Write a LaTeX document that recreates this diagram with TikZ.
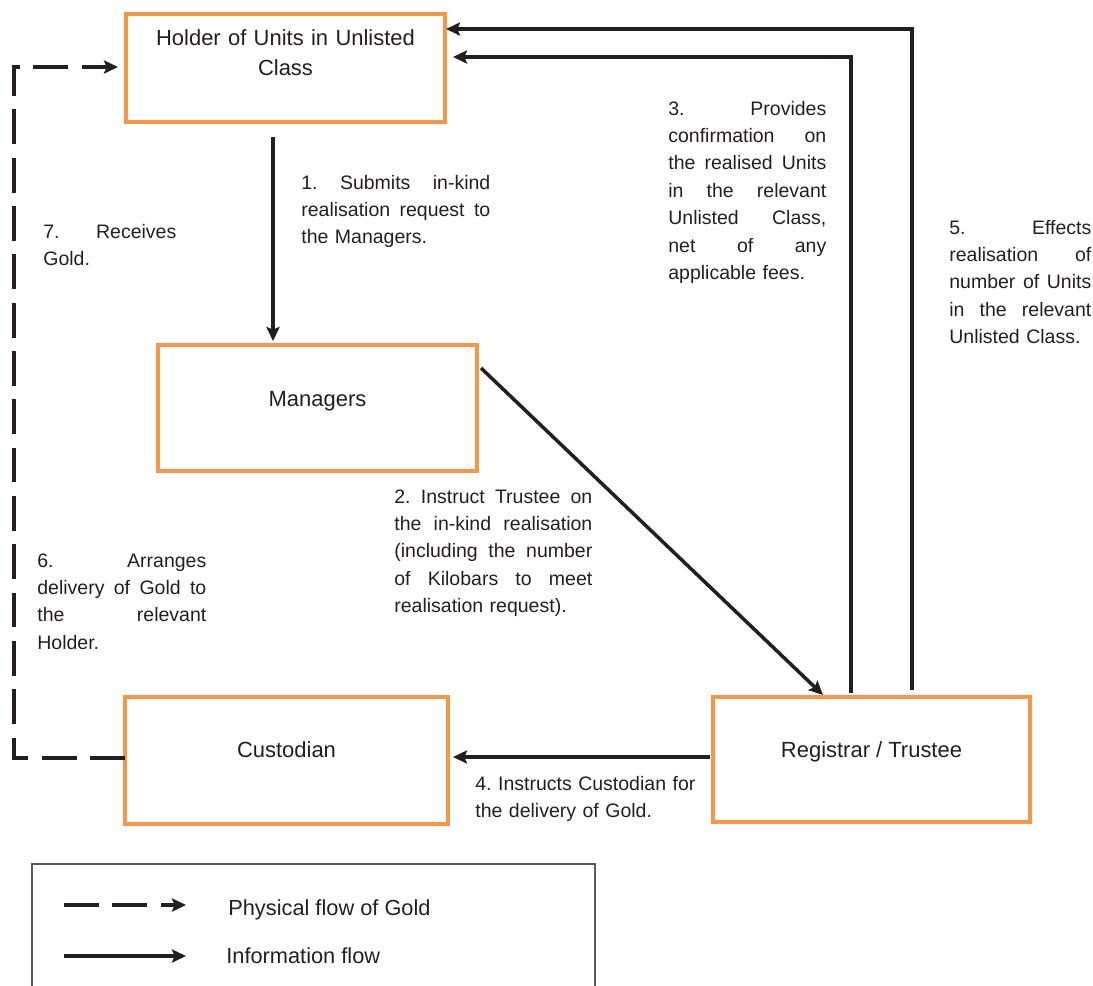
\documentclass[tikz,border=0pt]{standalone}
\usepackage{fontspec}
\setmainfont{Liberation Sans}
\usetikzlibrary{arrows.meta,calc}
\newdimen\pxu \pxu=0.02cm
\definecolor{boxorange}{HTML}{F79646}
\definecolor{ink}{HTML}{231F20}
\newcommand\jl[2]{\leavevmode\hbox to #1\pxu{\spaceskip=0.278em plus 1fil\relax #2}}
\frenchspacing
\begin{document}
\begin{tikzpicture}[x=0.02cm, y=-0.02cm,
  box/.style={draw=boxorange, line width=1.8pt, inner sep=0pt, fill=white},
  boxtxt/.style={text=ink, inner sep=0pt, font=\fontsize{12.5}{17.5}\selectfont},
  lbl/.style={text=ink, inner sep=0pt, align=left, anchor=base west, font=\fontsize{11.1}{15.6}\selectfont\frenchspacing},
  lgd/.style={text=ink, inner sep=0pt, anchor=base west, font=\fontsize{12.4}{15.6}\selectfont},
  tip/.style={-{Stealth[length=8pt,width=7.5pt,inset=1.5pt]}},
  info/.style={draw=ink, line width=2pt, tip},
  phys/.style={draw=ink, line width=2.3pt, dash pattern=on 19.8pt off 7.7pt, tip},
  legendframe/.style={draw=black!65, line width=0.7pt}]
\useasboundingbox (0,0) rectangle (1093,985);

% boxes
\node[box, minimum width=319\pxu, minimum height=108\pxu] (holder) at (285.5,68) {};
\node[box, minimum width=319\pxu, minimum height=126\pxu] (managers) at (317.5,408) {};
\node[box, minimum width=323\pxu, minimum height=127\pxu] (custodian) at (286.5,760.5) {};
\node[box, minimum width=317\pxu, minimum height=125\pxu] (registrar) at (871.5,759.5) {};

% box texts
\node[boxtxt, anchor=base, text width=310\pxu, align=center] (holdert) at (285.5,45) {Holder of Units in Unlisted\\Class};
\node[boxtxt, anchor=base] (managerst) at (317.5,406) {Managers};
\node[boxtxt, anchor=base] (custodiant) at (286.5,757) {Custodian};
\node[boxtxt, anchor=base] (registrart) at (871.5,757) {Registrar / Trustee};

% connector end points
\coordinate (a1s) at (273,137);  \coordinate (a1e) at (273,341);
\coordinate (a2s) at (481,368);  \coordinate (a2e) at (823,695);
\coordinate (a3s) at (851,693);  \coordinate (a3c) at (851,57);  \coordinate (a3e) at (453,57);
\coordinate (a5s) at (912,690);  \coordinate (a5c) at (912,29);  \coordinate (a5e) at (446,29);
\coordinate (a4s) at (710,757);  \coordinate (a4e) at (453,757);
\coordinate (d1s) at (125,758);  \coordinate (d1a) at (14,758);  \coordinate (d1b) at (14,67);  \coordinate (d1e) at (118,67);

\draw[info] (a1s) -- (a1e);
\draw[info] (a2s) -- (a2e);
\draw[info] (a3s) -- (a3c) -- (a3e);
\draw[info] (a5s) -- (a5c) -- (a5e);
\draw[info] (a4s) -- (a4e);
\draw[phys] (d1s) -- (d1a) -- (d1b) -- (d1e);

% labels
\node[lbl, text width=189\pxu] (t1) at (301,189) {\jl{189}{1. Submits in-kind}\\\jl{189}{realisation request to}\\the Managers.};
\node[lbl, text width=133\pxu] (t7) at (43,238) {\jl{133}{7. Receives}\\Gold.};
\node[lbl, text width=158\pxu] (t3) at (668,115) {\jl{158}{3. Provides}\\\jl{158}{confirmation on}\\\jl{158}{the realised Units}\\\jl{158}{in the relevant}\\\jl{158}{Unlisted Class,}\\\jl{158}{net of any}\\applicable fees.};
\node[lbl, text width=142\pxu] (t5) at (949,234) {\jl{142}{5. Effects}\\\jl{142}{realisation of}\\\jl{142}{number of Units}\\\jl{142}{in the relevant}\\Unlisted Class.};
\node[lbl, text width=169\pxu] (t6) at (37,567) {\jl{169}{6. Arranges}\\\jl{169}{delivery of Gold to}\\\jl{169}{the relevant}\\Holder.};
\node[lbl, text width=198\pxu] (t2) at (394,503) {\jl{198}{2. Instruct Trustee on}\\\jl{198}{the in-kind realisation}\\\jl{198}{(including the number}\\\jl{198}{of Kilobars to meet}\\realisation request).};
\node[lbl, text width=230\pxu] (t4) at (475,790) {4. Instructs Custodian for\\the delivery of Gold.};

% legend
\draw[legendframe] (32,990) -- (32,864) -- (595,864) -- (595,990);
\coordinate (l1s) at (64,905); \coordinate (l1e) at (186,905);
\coordinate (l2s) at (64,956); \coordinate (l2e) at (186,956);
\draw[phys] (l1s) -- (l1e);
\draw[info] (l2s) -- (l2e);
\node[lgd] (lt1) at (228,915) {Physical flow of Gold};
\node[lgd] (lt2) at (226,963) {Information flow};
\end{tikzpicture}
\end{document}
